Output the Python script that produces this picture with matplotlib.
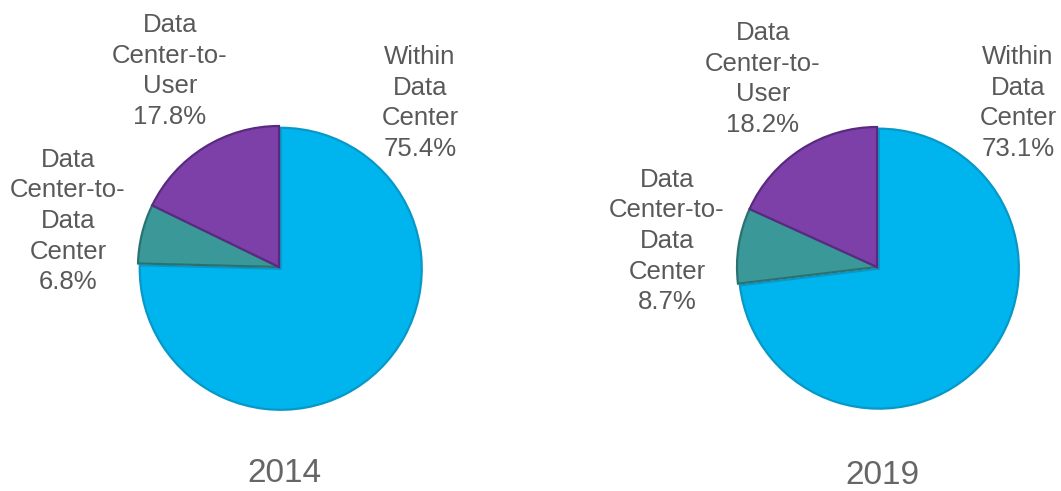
import matplotlib.pyplot as plt

# data
years = ['2014', '2019']
categories = ['Within\nData\nCenter', 'Data\nCenter-to-\nData\nCenter', 'Data\nCenter-to-\nUser']
share_2014 = [75.4, 6.8, 17.8]
share_2019 = [73.1, 8.7, 18.2]

colors = ['#00B5EE', '#3B9898', '#7D40A8']
edges = ['#0898C8', '#2A7272', '#5A2A80']

plt.rcParams['font.family'] = ['Liberation Sans', 'DejaVu Sans']

W, H = 1061, 491
fig = plt.figure(figsize=(W / 100, H / 100), dpi=100)
ax = fig.add_axes([0, 0, 1, 1])

# pixel layout (x, y from top)
pie_pos = [((279, 267), 141), ((877, 267), 140)]
label_pos = [
    [(420, 103), (68, 221), (170, 71)],
    [(1018, 103), (667, 241), (763, 79)],
]
title_pos = [(284, 474), (882, 475)]

for i, vals in enumerate([share_2014, share_2019]):
    (cx, cy), r = pie_pos[i]
    wedges, _ = ax.pie(vals, colors=colors, startangle=90, counterclock=False,
                       center=(cx, H - cy), radius=r, explode=[2.5, 0, 0],
                       normalize=True,
                       wedgeprops=dict(linewidth=1.6))
    for w, ec in zip(wedges, edges):
        w.set_edgecolor(ec)
    for (lx, ly), cat, v in zip(label_pos[i], categories, vals):
        ax.text(lx, H - ly, f'{cat}\n{v}%', ha='center', va='center',
                fontsize=18.5, color='#595959', linespacing=1.35)
    tx, ty = title_pos[i]
    ax.text(tx, H - ty, years[i], ha='center', va='center',
            fontsize=24, color='#666666')

ax.set_xlim(0, W)
ax.set_ylim(0, H)
ax.set_aspect('equal')
ax.axis('off')

fig.savefig('out.png', dpi=100, facecolor='white')
